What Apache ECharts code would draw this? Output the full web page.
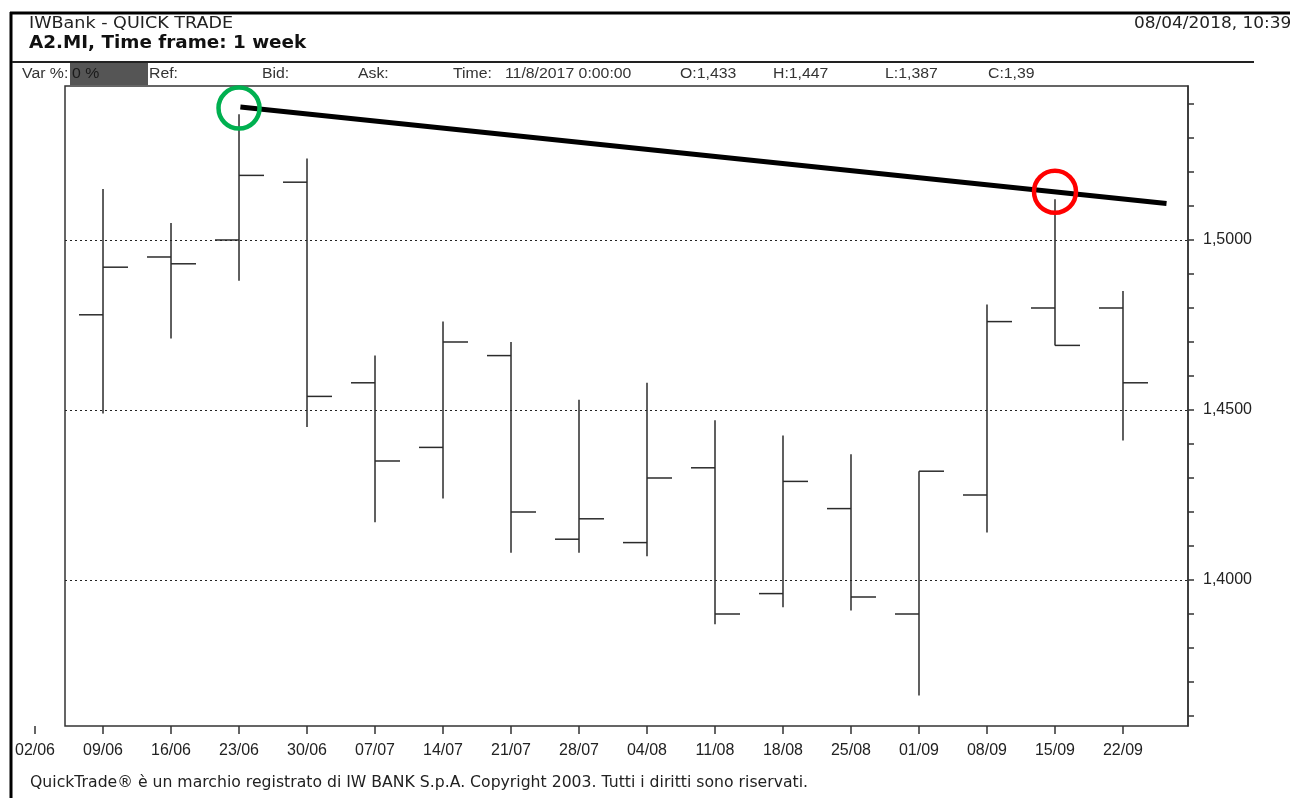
<!DOCTYPE html>
<html>
<head>
<meta charset="utf-8">
<script src="https://cdn.jsdelivr.net/npm/echarts@6/dist/echarts.min.js"></script>
<style>
  html, body { margin: 0; padding: 0; background: #fff; }
  #chart { width: 1290px; height: 798px; }
</style>
</head>
<body>
<div id="chart"></div>
<script>
// weekly bars, x = week index (0 = 02/06)
const weekLabels = ['02/06', '09/06', '16/06', '23/06', '30/06', '07/07', '14/07', '21/07', '28/07',
  '04/08', '11/08', '18/08', '25/08', '01/09', '08/09', '15/09', '22/09'];
const weekIdx = [1, 2, 3, 4, 5, 6, 7, 8, 9, 10, 11, 12, 13, 14, 15, 16];
const opens = [1.478, 1.495, 1.500, 1.517, 1.458, 1.439, 1.466, 1.412, 1.411, 1.433, 1.396, 1.421, 1.390, 1.425, 1.480, 1.480];
const highs = [1.515, 1.505, 1.537, 1.524, 1.466, 1.476, 1.470, 1.453, 1.458, 1.447, 1.4425, 1.437, 1.432, 1.481, 1.512, 1.485];
const lows = [1.449, 1.471, 1.488, 1.445, 1.417, 1.424, 1.408, 1.408, 1.407, 1.387, 1.392, 1.391, 1.366, 1.414, 1.469, 1.441];
const closes = [1.492, 1.493, 1.519, 1.454, 1.435, 1.470, 1.420, 1.418, 1.430, 1.390, 1.429, 1.395, 1.432, 1.476, 1.469, 1.458];

const trendLine = [[3.02, 1.5391], [16.64, 1.5107]];
const greenMark = [[3, 1.5388]];
const redMark = [[15, 1.5142]];

const yTicks = [1.36, 1.37, 1.38, 1.39, 1.40, 1.41, 1.42, 1.43, 1.44, 1.45, 1.46, 1.47, 1.48, 1.49, 1.50, 1.51, 1.52, 1.53, 1.54];
const yLabels = [1.40, 1.45, 1.50];
const xTicks = [0, 1, 2, 3, 4, 5, 6, 7, 8, 9, 10, 11, 12, 13, 14, 15, 16];

const ohlc = weekIdx.map((x, i) => [x, opens[i], highs[i], lows[i], closes[i]]);

const ink = '#2b2b2b';
const axisFont = 'Liberation Sans';

function renderBar(params, api) {
  const x = api.value(0);
  const o = api.coord([x, api.value(1)]);
  const h = api.coord([x, api.value(2)]);
  const l = api.coord([x, api.value(3)]);
  const c = api.coord([x, api.value(4)]);
  const style = { stroke: ink, lineWidth: 1.5 };
  return {
    type: 'group',
    children: [
      { type: 'line', shape: { x1: h[0], y1: h[1], x2: l[0], y2: l[1] }, style },
      { type: 'line', shape: { x1: o[0] - 24, y1: o[1], x2: o[0], y2: o[1] }, style },
      { type: 'line', shape: { x1: c[0], y1: c[1], x2: c[0] + 25, y2: c[1] }, style }
    ]
  };
}

// header / footer text, stretched a bit to get the wide look of the original font
function txt(x, y, text, font, fill, sx) {
  return {
    type: 'text', x, y, scaleX: sx || 1, silent: true,
    style: { text, font, fill: fill || '#222', verticalAlign: 'middle' }
  };
}

const hdrFont = '14px "Liberation Sans"';

const chart = echarts.init(document.getElementById('chart'), null, { renderer: 'canvas' });
chart.setOption({
  animation: false,
  backgroundColor: '#fff',
  grid: [
    { left: 65, top: 86, width: 1123, height: 640, show: true, borderColor: '#333', borderWidth: 1.5, backgroundColor: 'transparent' },
    { left: 35, top: 86, width: 1153, height: 640 }
  ],
  xAxis: [
    { type: 'value', gridIndex: 0, min: 0.441, max: 16.956, show: false, splitLine: { show: false } },
    {
      type: 'value', gridIndex: 1, min: 0, max: 16.956,
      axisLine: { show: false },
      splitLine: { show: false },
      axisTick: { show: true, length: 8, customValues: xTicks, lineStyle: { color: '#333', width: 1.5 } },
      axisLabel: {
        customValues: xTicks, margin: 17, color: '#222',
        fontFamily: axisFont, fontSize: 16,
        formatter: (v) => weekLabels[Math.round(v)]
      }
    }
  ],
  yAxis: [
    {
      type: 'value', gridIndex: 0, position: 'right', min: 1.35706, max: 1.54529,
      axisLine: { show: true, lineStyle: { color: '#333', width: 1.5 } },
      axisTick: { show: true, length: 6, customValues: yTicks, lineStyle: { color: '#333', width: 1.5 } },
      axisLabel: {
        customValues: yLabels, margin: 15, color: '#222',
        fontFamily: axisFont, fontSize: 16,
        formatter: (v) => v.toFixed(4).replace('.', ',')
      },
      splitLine: { show: false }
    },
    { type: 'value', gridIndex: 1, show: false, min: 0, max: 1 }
  ],
  series: [
    {
      type: 'custom', xAxisIndex: 0, yAxisIndex: 0,
      renderItem: renderBar, data: ohlc, encode: { x: 0, y: [1, 2, 3, 4] }, z: 3
    },
    {
      type: 'line', xAxisIndex: 0, yAxisIndex: 0, data: trendLine,
      symbol: 'none', lineStyle: { color: '#000', width: 5 }, z: 4,
      markLine: {
        silent: true, symbol: 'none', label: { show: false },
        lineStyle: { color: '#222', type: [2, 3], width: 1.2 },
        data: yLabels.map((v) => ({ yAxis: v }))
      }
    },
    {
      type: 'scatter', xAxisIndex: 0, yAxisIndex: 0, data: greenMark, symbol: 'circle', symbolSize: 41,
      itemStyle: { color: 'transparent', borderColor: '#00b050', borderWidth: 4.5, opacity: 1 }, z: 5
    },
    {
      type: 'scatter', xAxisIndex: 0, yAxisIndex: 0, data: redMark, symbol: 'circle', symbolSize: 42,
      itemStyle: { color: 'transparent', borderColor: '#ff0000', borderWidth: 4.5, opacity: 1 }, z: 5
    }
  ],
  graphic: [
    { type: 'line', silent: true, shape: { x1: 11, y1: 12, x2: 11, y2: 798 }, style: { stroke: '#000', lineWidth: 3 } },
    { type: 'line', silent: true, shape: { x1: 10, y1: 13, x2: 1290, y2: 13 }, style: { stroke: '#000', lineWidth: 3 } },
    { type: 'line', silent: true, shape: { x1: 12, y1: 62, x2: 1254, y2: 62 }, style: { stroke: '#222', lineWidth: 2 } },
    { type: 'rect', silent: true, shape: { x: 70, y: 63, width: 78, height: 22 }, style: { fill: '#555' } },
    txt(29, 24, 'IWBank - QUICK TRADE', '15px "DejaVu Sans"', '#222', 1.17),
    txt(29, 44, 'A2.MI, Time frame: 1 week', 'bold 17px "DejaVu Sans"', '#111', 1.08),
    txt(1134, 24, '08/04/2018, 10:39', '15px "DejaVu Sans"', '#222', 1.13),
    txt(22, 74, 'Var %:', hdrFont, '#333', 1.13),
    txt(72, 74, '0 %', hdrFont, '#1a1a1a', 1.13),
    txt(149, 74, 'Ref:', hdrFont, '#333', 1.13),
    txt(262, 74, 'Bid:', hdrFont, '#333', 1.13),
    txt(358, 74, 'Ask:', hdrFont, '#333', 1.13),
    txt(453, 74, 'Time:', hdrFont, '#333', 1.13),
    txt(505, 74, '11/8/2017 0:00:00', hdrFont, '#333', 1.13),
    txt(680, 74, 'O:1,433', hdrFont, '#333', 1.13),
    txt(773, 74, 'H:1,447', hdrFont, '#333', 1.13),
    txt(885, 74, 'L:1,387', hdrFont, '#333', 1.13),
    txt(988, 74, 'C:1,39', hdrFont, '#333', 1.13),
    txt(30, 783, 'QuickTrade® è un marchio registrato di IW BANK S.p.A. Copyright 2003. Tutti i diritti sono riservati.', '15px "DejaVu Sans"', '#222', 1.045)
  ]
});
</script>
</body>
</html>
